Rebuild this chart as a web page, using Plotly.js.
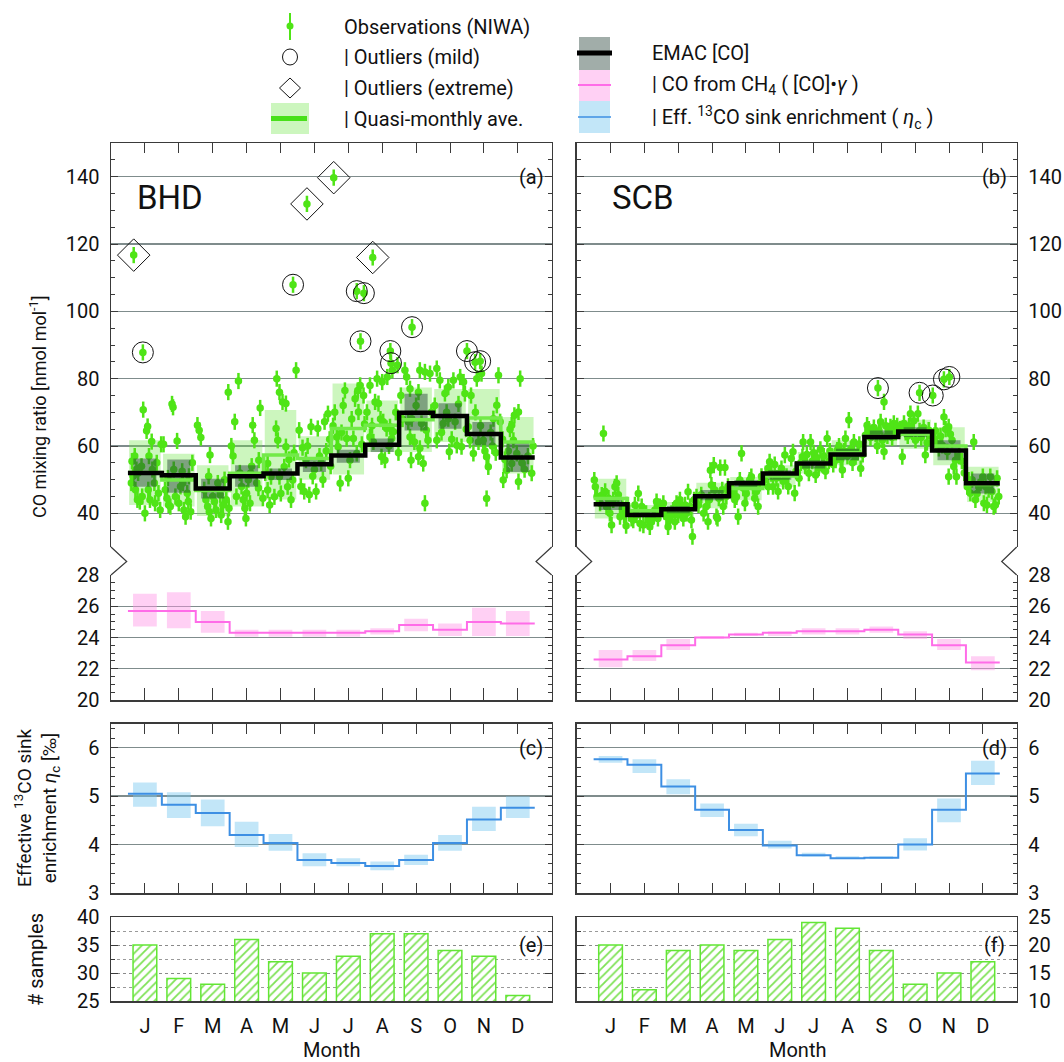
<!DOCTYPE html>
<html><head><meta charset="utf-8">
<script src="https://cdn.plot.ly/plotly-3.0.1.min.js"></script>
<style>body{margin:0;background:#fff}#chart{width:1064px;height:1062px}</style>
</head><body><div id="chart"></div>
<script>
// ---------------- DATA ----------------
const months = [1,2,3,4,5,6,7,8,9,10,11,12];
const monthLabels = ['J','F','M','A','M','J','J','A','S','O','N','D'];

// BHD observations (x = month position, y = CO nmol/mol)
const bhdObsX = [
 0.62,0.7,0.75,0.8,0.6,0.65,0.72,0.78,0.85,0.92,0.95,1.0,1.05,1.08,1.1,1.15,1.2,1.22,1.28,1.3,1.35,1.4,1.45,1.48,0.9,1.12,
 1.55,1.6,1.65,1.7,1.75,1.8,1.83,1.9,1.95,2.0,2.05,2.1,2.15,2.2,2.25,2.3,2.35,2.4,1.85,2.28,2.12,1.68,
 2.55,2.6,2.65,2.92,2.75,2.8,2.85,2.9,2.95,3.0,3.05,3.1,3.15,3.2,3.25,3.3,3.35,3.4,3.45,3.48,2.88,3.22,3.46,
 3.55,3.6,3.65,3.7,3.76,3.8,3.85,3.9,3.95,4.0,4.05,4.1,4.15,4.18,4.23,4.3,4.35,4.4,4.36,4.48,3.98,4.12,
 4.55,4.62,4.62,4.72,4.82,4.87,4.89,4.92,4.97,4.97,5.01,5.06,5.11,5.16,5.16,5.21,5.31,5.36,5.46,4.68,5.25,5.4,
 5.55,5.6,5.65,5.7,5.75,5.8,5.85,5.9,5.95,6.0,6.05,6.1,6.15,6.2,6.25,6.3,6.35,6.4,6.45,6.48,
 6.55,6.6,6.66,6.7,6.76,6.8,6.85,6.9,6.95,7.0,7.05,7.1,7.15,7.2,7.25,7.28,7.3,7.35,7.4,7.45,7.48,
 7.55,7.64,7.64,7.7,7.74,7.79,7.85,7.89,7.95,7.98,8.0,8.03,8.08,8.13,8.15,8.2,8.23,8.28,8.3,8.33,8.4,8.45,8.48,
 8.55,8.6,8.67,8.72,8.77,8.82,8.82,8.85,8.87,8.95,9.0,9.07,9.07,9.11,9.11,9.16,9.21,9.26,9.26,9.3,9.35,9.41,9.45,
 9.55,9.61,9.61,9.7,9.75,9.8,9.85,9.9,9.95,9.95,9.98,10.05,10.1,10.15,10.2,10.25,10.3,10.34,10.4,10.44,10.48,
 10.54,10.59,10.62,10.69,10.75,10.79,10.84,10.9,10.93,10.98,11.03,11.08,11.08,11.13,11.2,11.25,11.28,11.35,11.38,11.43,11.48,
 11.55,11.57,11.62,11.67,11.72,11.77,11.82,11.82,11.87,11.9,11.97,12.02,12.02,12.07,12.12,12.2,12.3,12.41,12.45
];
const bhdObsY = [
 55.5,57,53,52,49,51,47,44,43.5,45,70.8,40,64.5,65.8,47,44,61.3,53,49,43,55,46,41,60.5,54,57,
 60.5,47,44.5,42.5,42,72.5,71.5,45,61.5,43,48,52.5,41,39,46,51,40.5,55,53,43.5,49,50.5,
 66.2,64.7,62.5,57.3,47,44,42,40.5,38.5,45,43.5,41,49,47,39.5,42.5,50,44,37.5,41.5,51,45.5,76,
 60,57,67.2,45,79.3,52,48,44,41.5,46,50,43,54,66.2,61.7,49,47.5,71.3,55.8,44.5,38.5,52,
 52,54.8,46.9,50.9,44.9,65.2,80,61.7,76,50.9,45.9,73.1,53.8,72.6,59.8,47.9,44,49.9,82.5,42.5,56,58,
 64.7,48,59.5,46.5,55.8,60,45.5,65.7,51,53,46.5,65.2,57,55,50,67.2,58.5,69.6,62,54,
 66,70,62.7,59.8,48.9,64,72,76.5,62.2,50.4,55.8,68,62.2,74,57.8,76.5,70.1,78,60.5,75,66.5,
 70,78,62.7,66,61.2,73.1,80,72.6,68,56.8,79,67.2,55.8,65.2,80.5,60,65.7,62.2,82.5,64.2,70,84,58,
 75,68,82.5,80.5,67.2,77,62.7,55.8,68.1,61.2,72,76,56.8,82.5,59.3,66.7,54.8,82,43,64.7,61.7,81.5,70,
 72,83,61.7,79.5,64,66.7,75.6,70,77.5,68.1,58.3,62,79.5,67.2,60.2,72.5,80.5,59.8,79,75.6,65,
 65.7,61.7,75,57.8,70,80,61.2,66,81.5,61.7,58.5,56.8,44.4,53.8,64,60,68.1,58,72.1,81,67.2,
 62,49.9,56,52.8,58.5,65,54.8,66.2,61.7,69.1,57.8,70.1,49.4,80,55,53,57,51.9,60
];
const bhdMildX = [0.94,5.37,7.25,7.46,7.36,8.88,8.24,8.26,10.5,10.74,10.89];
const bhdMildY = [87.8,107.9,106.0,105.4,91.1,95.3,88.2,84.6,88.2,84.9,85.2];
const bhdExtX = [0.67,5.78,6.57,7.72];
const bhdExtY = [116.7,131.9,139.7,116.0];

const bhdEmac   = [52.0,51.3,47.4,51.0,51.8,54.6,57.2,60.4,69.9,68.9,63.6,56.6];
const bhdEmacLo = [47.9,46.1,44.4,47.9,49.9,52.3,55.0,58.2,64.6,65.1,60.2,52.3];
const bhdEmacHi = [56.3,56.0,50.3,54.3,53.3,56.3,58.9,62.2,75.5,72.7,67.1,61.2];
const bhdAve    = [52.1,49.9,46.8,51.9,57.3,56.3,65.2,66.2,67.8,69.0,68.3,61.2];
const bhdAveLo  = [42.5,42.0,39.2,42.0,44.1,50.0,51.5,58.2,58.2,61.2,59.7,51.8];
const bhdAveHi  = [61.7,57.7,54.3,61.7,70.7,62.9,78.6,73.5,77.4,76.9,76.9,68.6];

// SCB observations
const scbObsX = [
 0.52,0.55,0.6,0.69,0.74,0.79,0.84,0.88,0.94,0.98,1.03,1.08,1.13,1.18,1.23,1.28,1.35,1.4,1.46,1.48,
 1.55,1.62,1.67,1.72,1.77,1.82,1.87,1.92,1.97,2.05,2.11,2.16,2.21,2.26,2.31,2.36,2.4,2.46,
 2.56,2.6,2.65,2.7,2.75,2.8,2.85,2.9,2.95,3.0,3.05,3.1,3.15,3.2,3.25,3.29,3.35,3.39,3.42,3.47,
 3.54,3.6,3.68,3.75,3.83,3.88,3.92,3.95,3.98,4.05,4.08,4.13,4.16,4.2,4.24,4.3,4.33,4.38,4.42,4.47,
 4.55,4.62,4.67,4.72,4.77,4.82,4.87,4.92,4.97,5.01,5.06,5.11,5.16,5.21,5.26,5.31,5.36,5.41,5.46,
 5.55,5.65,5.66,5.7,5.75,5.8,5.85,5.9,5.95,6.0,6.05,6.1,6.15,6.2,6.25,6.34,6.39,6.44,6.48,
 6.52,6.57,6.62,6.67,6.69,6.75,6.8,6.86,6.91,6.96,7.0,7.06,7.1,7.15,7.2,7.25,7.3,7.35,7.4,7.45,7.48,
 7.52,7.58,7.65,7.7,7.75,7.8,7.85,7.9,7.94,8.0,8.04,8.1,8.15,8.19,8.24,8.3,8.35,8.39,8.45,
 8.53,8.58,8.63,8.68,8.73,8.78,8.83,8.88,8.93,8.98,9.03,9.08,9.08,9.13,9.18,9.22,9.27,9.32,9.37,9.43,9.47,
 9.55,9.62,9.67,9.72,9.78,9.82,9.86,9.91,9.96,10.01,10.08,10.13,10.18,10.25,10.3,10.35,10.4,10.46,
 10.55,10.6,10.65,10.7,10.75,10.8,10.85,10.9,10.95,10.99,10.99,11.04,11.09,11.14,11.19,11.22,11.3,11.38,11.45,
 11.54,11.58,11.63,11.68,11.73,11.78,11.83,11.88,11.93,12.0,12.03,12.08,12.12,12.17,12.22,12.27,12.32,12.37,12.42,12.47
];
const scbObsY = [
 49.9,47.9,45,43,45.4,63.7,46.5,42,44.5,40,36.5,44,47.9,48.9,45.5,39,41.5,39.5,36.3,42.5,
 40,38.5,38,42.5,39.5,45.9,37,42,36.5,40,38,36,37.5,39,41,43.5,38.5,42,
 43,40.5,39,36,38,40,41,37.5,43,39.5,44,41.5,38.5,42.5,40,46.4,42,38,33.1,44,
 44.9,42.5,45.5,40,42,37.5,44,52.8,48.4,54.3,46.9,39,38.5,44.5,53.6,47,42,53.6,45,48,
 47,46.9,44,44.9,39,49.9,57.8,47.5,43,45.9,48,49.9,50.9,47.9,44.5,46.5,42,48.9,51,
 50,53.3,47.9,55.3,51.8,47.9,54.5,50.5,46.5,52,53.3,49.5,57.3,51,48,56.3,58.3,46,52.5,
 52,50.4,55,56.8,61.2,54,57.5,51.9,61.2,55.5,58,51.4,56.5,53.5,59,54.5,57,52.5,62.2,55.5,58.5,
 57,54.5,55.8,58.8,60,56,52.9,58.5,62.2,57,67.7,59,55,61.2,56.8,58,60.5,53.3,57.5,
 63.2,66.2,65,62.5,64,65.5,63.5,60,64.5,67.2,61.7,73.1,58.3,66,63,64.5,65.7,62.5,66.7,64,66,
 65,56.8,66.7,64,63,66,69.6,64.2,67.5,61.7,69.6,64.5,62.5,65.5,57.3,61,64.7,63,
 62,64.5,60.5,59.3,63,60.2,68.6,65,58.3,65.7,50.9,63.5,61.7,53.9,55.8,50.9,57,55.5,52,
 47.9,49.9,46,50,61.2,44,45.9,47.9,49,50.9,43,48,42.5,47,50.9,46.5,42,42.5,50.4,45
];
const scbMildX = [8.9,10.13,10.52,10.85,11.01];
const scbMildY = [77.2,75.8,75.0,79.8,80.5];

const scbEmac   = [42.7,39.5,41.2,45.1,48.9,51.8,54.8,57.5,62.7,64.3,58.7,48.9];
const scbEmacLo = [41.0,38.8,40.0,43.9,47.4,50.0,53.3,55.8,61.7,62.7,55.8,45.9];
const scbEmacHi = [44.1,40.5,42.2,46.9,49.9,52.8,55.8,59.2,64.6,65.6,61.7,51.8];
const scbAve    = [44.4,40.8,41.2,45.3,47.4,51.1,55.0,58.0,62.9,63.5,60.0,48.6];
const scbAveLo  = [38.5,39.0,39.0,41.5,43.9,47.9,51.8,54.3,59.9,59.2,54.3,43.4];
const scbAveHi  = [50.3,42.5,43.4,49.1,50.8,54.3,58.2,61.7,65.9,67.8,65.6,53.8];

// CO from CH4
const bhdCh4   = [25.7,25.7,25.0,24.3,24.3,24.3,24.3,24.4,24.8,24.5,25.0,24.9];
const bhdCh4Lo = [24.7,24.6,24.3,24.05,24.05,24.05,24.05,24.2,24.4,24.1,24.1,24.1];
const bhdCh4Hi = [26.8,26.9,25.7,24.5,24.5,24.5,24.5,24.6,25.2,24.9,25.9,25.7];
const scbCh4   = [22.6,22.8,23.5,24.0,24.2,24.3,24.4,24.4,24.5,24.2,23.5,22.4];
const scbCh4Lo = [22.1,22.5,23.2,23.9,24.1,24.1,24.2,24.2,24.3,23.9,23.2,21.9];
const scbCh4Hi = [23.2,23.2,23.9,24.1,24.3,24.4,24.6,24.6,24.7,24.4,23.9,22.8];

// Effective 13CO sink enrichment
const bhdEta   = [5.05,4.82,4.65,4.20,4.03,3.68,3.62,3.56,3.68,4.03,4.52,4.76];
const bhdEtaLo = [4.78,4.55,4.38,3.95,3.87,3.55,3.55,3.47,3.58,3.87,4.28,4.55];
const bhdEtaHi = [5.28,5.08,4.93,4.47,4.22,3.82,3.72,3.65,3.79,4.20,4.78,5.00];
const scbEta   = [5.76,5.65,5.20,4.72,4.30,3.98,3.78,3.72,3.73,4.00,4.72,5.47];
const scbEtaLo = [5.69,5.48,5.04,4.57,4.17,3.92,3.75,3.70,3.70,3.88,4.46,5.23];
const scbEtaHi = [5.83,5.76,5.35,4.85,4.43,4.08,3.83,3.76,3.76,4.13,4.95,5.73];

// number of samples
const bhdSamples = [35,29,28,36,32,30,33,37,37,34,33,26];
const scbSamples = [20,12,19,20,19,21,24,23,19,13,15,17];

// ---------------- STYLE ----------------
const FONT = 'Roboto, "Liberation Sans", sans-serif';
const obsGreen = '#4fe416';
const gridC = '#7f8c8c';
const axC = '#3a3a3a';
const W = 1064, H = 1062;
const px = x => x / W, py = y => 1 - y / H;

function boxTrace(lo, hi, hw, fill, xa, ya) {
  const xs = [], ys = [];
  months.forEach((m, i) => {
    xs.push(m - hw, m + hw, m + hw, m - hw, m - hw, null);
    ys.push(lo[i], lo[i], hi[i], hi[i], lo[i], null);
  });
  return {type:'scatter', mode:'lines', x:xs, y:ys, fill:'toself', fillcolor:fill,
          line:{width:0, color:fill}, xaxis:xa, yaxis:ya, hoverinfo:'skip', showlegend:false};
}
function stepTrace(vals, color, width, xa, ya) {
  const xs = months.map(m => m - 0.5).concat([months[months.length - 1] + 0.5]);
  const ys = vals.concat([vals[vals.length - 1]]);
  return {type:'scatter', mode:'lines', x:xs, y:ys, line:{shape:'hv', color:color, width:width},
          xaxis:xa, yaxis:ya, hoverinfo:'skip', showlegend:false};
}
function obsTrace(x, y, xa, ya) {
  return {type:'scatter', mode:'markers', x:x, y:y, xaxis:xa, yaxis:ya,
          marker:{color:obsGreen, size:7.5},
          error_y:{type:'constant', value:2.4, color:obsGreen, thickness:2.5, width:0},
          hoverinfo:'skip', showlegend:false};
}
function openTrace(x, y, sym, size, xa, ya) {
  return {type:'scatter', mode:'markers', x:x, y:y, xaxis:xa, yaxis:ya,
          marker:{symbol:sym, size:size, color:'#111', line:{width:1, color:'#111'}},
          hoverinfo:'skip', showlegend:false};
}
function barTrace(vals, xa, ya) {
  return {type:'bar', x:months, y:vals, width:0.7, xaxis:xa, yaxis:ya,
          marker:{color:'#ffffff', line:{color:'#62e634', width:1.5},
                  pattern:{shape:'/', fgcolor:'#7ee255', bgcolor:'#ffffff', size:6, solidity:0.3}},
          hoverinfo:'skip', showlegend:false};
}

const lightGreen = 'rgba(110,230,70,0.35)';
const emacFill = 'rgba(30,60,50,0.45)';
const pinkFill = 'rgba(255,150,230,0.45)';
const blueFill = 'rgba(120,200,240,0.45)';
const pinkLine = '#ff6ce8';
const blueLine = '#3d8fe3';
const meanGreen = '#72ea48';

const data = [
  // Panel a (BHD)
  boxTrace(bhdAveLo, bhdAveHi, 0.465, lightGreen, 'x', 'y'),
  obsTrace(bhdObsX, bhdObsY, 'x', 'y'),
  obsTrace(bhdMildX, bhdMildY, 'x', 'y'),
  obsTrace(bhdExtX, bhdExtY, 'x', 'y'),
  openTrace(bhdMildX, bhdMildY, 'circle-open', 21, 'x', 'y'),
  openTrace(bhdExtX, bhdExtY, 'diamond-open', 25, 'x', 'y'),
  boxTrace(bhdEmacLo, bhdEmacHi, 0.34, emacFill, 'x', 'y'),
  stepTrace(bhdAve, meanGreen, 3.5, 'x', 'y'),
  stepTrace(bhdEmac, '#000000', 4.5, 'x', 'y'),
  // Panel b (SCB)
  boxTrace(scbAveLo, scbAveHi, 0.465, lightGreen, 'x2', 'y2'),
  obsTrace(scbObsX, scbObsY, 'x2', 'y2'),
  obsTrace(scbMildX, scbMildY, 'x2', 'y2'),
  openTrace(scbMildX, scbMildY, 'circle-open', 21, 'x2', 'y2'),
  boxTrace(scbEmacLo, scbEmacHi, 0.34, emacFill, 'x2', 'y2'),
  stepTrace(scbAve, meanGreen, 3.5, 'x2', 'y2'),
  stepTrace(scbEmac, '#000000', 4.5, 'x2', 'y2'),
  // CO from CH4
  boxTrace(bhdCh4Lo, bhdCh4Hi, 0.35, pinkFill, 'x3', 'y3'),
  stepTrace(bhdCh4, pinkLine, 2, 'x3', 'y3'),
  boxTrace(scbCh4Lo, scbCh4Hi, 0.35, pinkFill, 'x4', 'y4'),
  stepTrace(scbCh4, pinkLine, 2, 'x4', 'y4'),
  // eta
  boxTrace(bhdEtaLo, bhdEtaHi, 0.35, blueFill, 'x5', 'y5'),
  stepTrace(bhdEta, blueLine, 2, 'x5', 'y5'),
  boxTrace(scbEtaLo, scbEtaHi, 0.35, blueFill, 'x6', 'y6'),
  stepTrace(scbEta, blueLine, 2, 'x6', 'y6'),
  // samples
  barTrace(bhdSamples, 'x7', 'y7'),
  barTrace(scbSamples, 'x8', 'y8')
];

// ---------------- LAYOUT ----------------
const xL = [px(111), px(551.7)], xR = [px(576.7), px(1016.7)];
const yA = [py(547), py(143)], yB = [py(700), py(575)], yC = [py(893), py(723.5)], yD = [py(1001), py(917)];

const xBase = {range:[0,13], tickvals:months, showticklabels:false, ticks:'inside', ticklen:10,
  tickcolor:axC, tickwidth:1, showgrid:false, zeroline:false, showline:true, linecolor:axC, linewidth:1.5, fixedrange:true};
const yBase = {ticks:'inside', ticklen:7, tickcolor:axC, tickwidth:1, showline:true, linecolor:axC, linewidth:1.5,
  mirror:'ticks', showgrid:true, gridcolor:gridC, gridwidth:1.4, zeroline:false, fixedrange:true,
  ticklabelstandoff:6, tickfont:{size:20, family:FONT, color:'#111'}};
const minorT = d => ({dtick:d, ticks:'inside', ticklen:4, tickcolor:axC, tickwidth:1, showgrid:false});

const layout = {
  width:W, height:H, margin:{l:0, r:0, t:0, b:0}, showlegend:false,
  paper_bgcolor:'#ffffff', plot_bgcolor:'#ffffff', barmode:'overlay',
  font:{family:FONT, size:20, color:'#111'},
  xaxis: {...xBase, domain:xL, anchor:'y', side:'top'},
  xaxis2:{...xBase, domain:xR, anchor:'y2', side:'top'},
  xaxis3:{...xBase, domain:xL, anchor:'y3', ticklen:12},
  xaxis4:{...xBase, domain:xR, anchor:'y4', ticklen:12},
  xaxis5:{...xBase, domain:xL, anchor:'y5', mirror:'ticks'},
  xaxis6:{...xBase, domain:xR, anchor:'y6', mirror:'ticks'},
  xaxis7:{...xBase, domain:xL, anchor:'y7', mirror:true, ticks:'', showticklabels:true, ticktext:monthLabels,
          ticklabelstandoff:6, tickfont:{size:20, family:FONT, color:'#111'}},
  xaxis8:{...xBase, domain:xR, anchor:'y8', mirror:true, ticks:'', showticklabels:true, ticktext:monthLabels,
          ticklabelstandoff:6, tickfont:{size:20, family:FONT, color:'#111'}},
  yaxis: {...yBase, domain:yA, anchor:'x', range:[30,150], tick0:0, dtick:20, minor:minorT(5)},
  yaxis2:{...yBase, domain:yA, anchor:'x2', side:'right', range:[30,150], tick0:0, dtick:20, minor:minorT(5)},
  yaxis3:{...yBase, domain:yB, anchor:'x3', range:[20,28], tick0:0, dtick:2, minor:minorT(0.5)},
  yaxis4:{...yBase, domain:yB, anchor:'x4', side:'right', range:[20,28], tick0:0, dtick:2, minor:minorT(0.5)},
  yaxis5:{...yBase, domain:yC, anchor:'x5', range:[3,6.5], tick0:0, dtick:1, minor:minorT(0.2)},
  yaxis6:{...yBase, domain:yC, anchor:'x6', side:'right', range:[3,6.5], tick0:0, dtick:1, minor:minorT(0.2)},
  yaxis7:{...yBase, domain:yD, anchor:'x7', range:[25,40], tick0:0, dtick:5, griddash:'dot', gridcolor:'#8a8a8a', gridwidth:1,
          minor:{dtick:2.5, ticks:'inside', ticklen:4, tickcolor:axC, showgrid:true, gridcolor:'#9a9a9a', griddash:'dot', gridwidth:1}},
  yaxis8:{...yBase, domain:yD, anchor:'x8', side:'right', range:[10,25], tick0:0, dtick:5, griddash:'dot', gridcolor:'#8a8a8a', gridwidth:1,
          minor:{dtick:2.5, ticks:'inside', ticklen:4, tickcolor:axC, showgrid:true, gridcolor:'#9a9a9a', griddash:'dot', gridwidth:1}},
  annotations: [],
  shapes: []
};

const ann = (x, y, text, opts) => Object.assign({xref:'paper', yref:'paper', x:px(x), y:py(y), text:text,
  showarrow:false, xanchor:'center', yanchor:'middle', font:{size:20, family:FONT, color:'#111'}}, opts || {});

layout.annotations.push(
  ann(170, 197, 'BHD', {font:{size:33, family:FONT, color:'#111'}}),
  ann(643, 197, 'SCB', {font:{size:33, family:FONT, color:'#111'}}),
  ann(531, 177, '(a)'), ann(994, 177, '(b)'),
  ann(531, 748, '(c)'), ann(994, 748, '(d)'),
  ann(531, 945, '(e)'), ann(994, 945, '(f)'),
  ann(331, 1050, 'Month'), ann(797, 1050, 'Month'),
  ann(38, 407, 'CO mixing ratio [nmol mol<sup>-1</sup>]', {textangle:-90, font:{size:18, family:FONT, color:'#111'}}),
  ann(37, 808, 'Effective <sup>13</sup>CO sink<br>enrichment <i>η</i><sub>c</sub> [‰]', {textangle:-90, font:{size:19, family:FONT, color:'#111'}}),
  ann(36, 960, '# samples', {textangle:-90, font:{size:20, family:FONT, color:'#111'}}),
  // legend texts
  ann(342, 27, 'Observations (NIWA)', {xanchor:'left'}),
  ann(342, 57, '| Outliers (mild)', {xanchor:'left'}),
  ann(342, 88, '| Outliers (extreme)', {xanchor:'left'}),
  ann(342, 119, '| Quasi-monthly ave.', {xanchor:'left'}),
  ann(650, 53, 'EMAC [CO]', {xanchor:'left'}),
  ann(650, 85, '| CO from CH<sub>4</sub> ( [CO]•<i>γ</i> )', {xanchor:'left'}),
  ann(650, 117, '| Eff. <sup>13</sup>CO sink enrichment ( <i>η</i><sub>c</sub> )', {xanchor:'left'})
);

const pth = pts => 'M ' + pts.map(p => px(p[0]) + ',' + py(p[1])).join(' L ');
const lineS = (pts, color, width) => ({type:'path', xref:'paper', yref:'paper', path:pth(pts), line:{color:color, width:width}});
const rectS = (x0, y0, x1, y1, fill) => ({type:'rect', xref:'paper', yref:'paper', x0:px(x0), x1:px(x1), y0:py(y1), y1:py(y0), fillcolor:fill, line:{width:0}});

layout.shapes.push(
  // axis breaks
  lineS([[111,547],[126.7,561.5],[111,575]], axC, 1.2),
  lineS([[551.7,547],[536,561.5],[551.7,575]], axC, 1.2),
  lineS([[576.7,547],[591.7,561.5],[576.7,575]], axC, 1.2),
  lineS([[1016.7,547],[1001.7,561.5],[1016.7,575]], axC, 1.2),
  // legend symbols
  lineS([[290,13],[290,40]], obsGreen, 2),
  {type:'circle', xref:'paper', yref:'paper', x0:px(286.5), x1:px(293.5), y0:py(29.5), y1:py(22.5), fillcolor:obsGreen, line:{width:0}},
  {type:'circle', xref:'paper', yref:'paper', x0:px(282.5), x1:px(297.5), y0:py(65), y1:py(49), line:{color:'#111', width:1}},
  {type:'path', xref:'paper', yref:'paper', path:pth([[290,78],[300.5,88],[290,98],[279.5,88],[290,78]]), line:{color:'#111', width:1}},
  rectS(271, 103, 309, 134, 'rgba(110,230,70,0.35)'),
  lineS([[271,118.5],[307,118.5]], '#48e01a', 5),
  rectS(579, 37, 610, 70, 'rgba(30,60,50,0.42)'),
  lineS([[577,53],[612,53]], '#000', 5),
  rectS(579, 70, 610, 101, 'rgba(255,150,230,0.45)'),
  lineS([[578,85],[611,85]], pinkLine, 2),
  rectS(579, 101, 610, 133, 'rgba(120,200,240,0.45)'),
  lineS([[578,117],[611,117]], blueLine, 1.5)
);

Plotly.newPlot('chart', data, layout, {displayModeBar:false, staticPlot:true});
</script>
</body></html>
